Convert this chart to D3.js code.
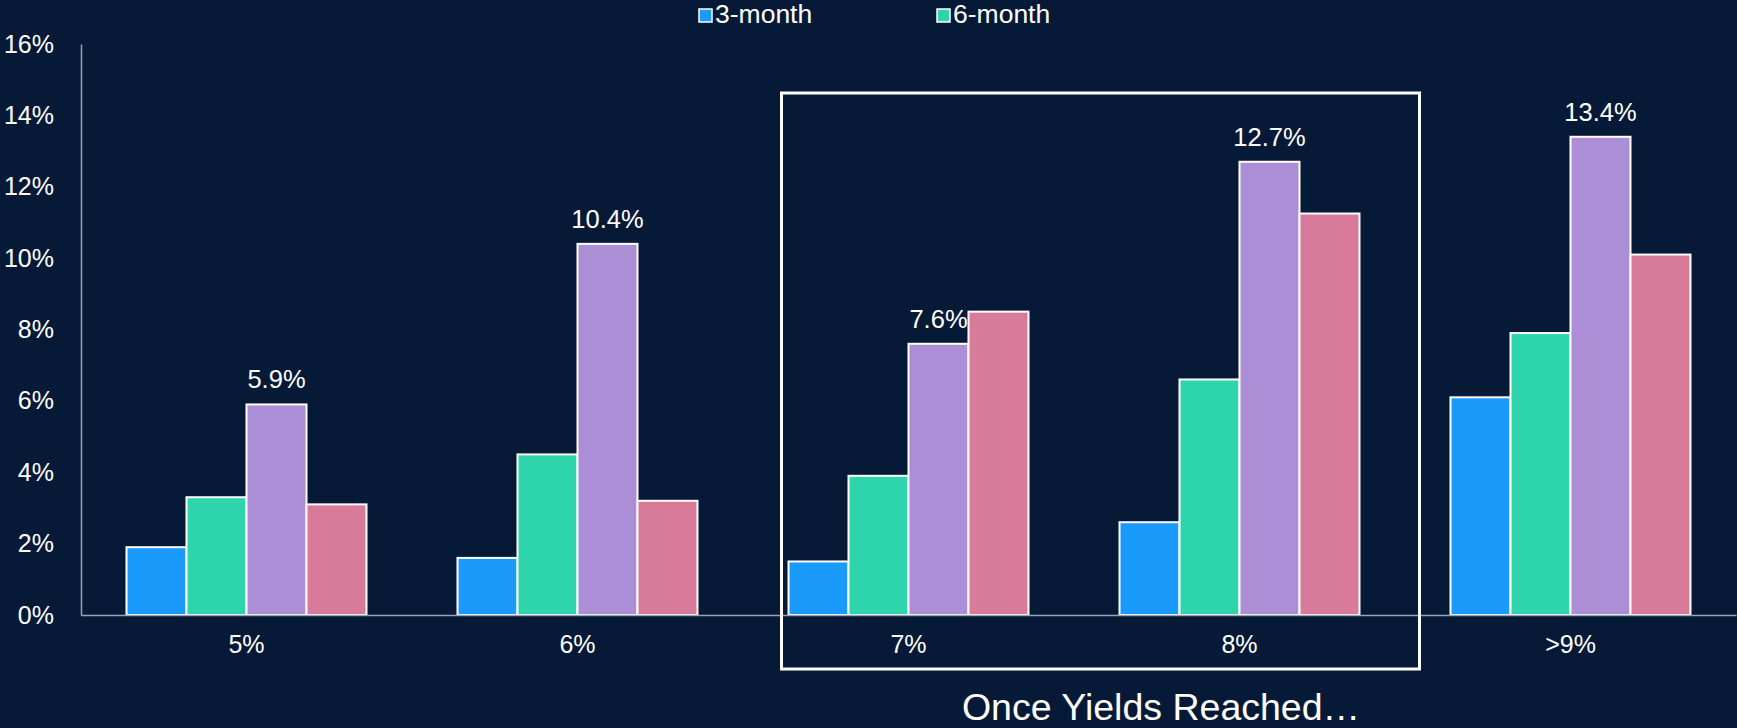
<!DOCTYPE html>
<html>
<head>
<meta charset="utf-8">
<script src="https://cdn.jsdelivr.net/npm/d3@7"></script>
<style>
  html, body { margin: 0; padding: 0; background: #061a38; }
  svg { display: block; font-family: "Liberation Sans", Arial, sans-serif; }
</style>
</head>
<body>
<div class="chart"></div>
<script>
const categories = ["5%", "6%", "7%", "8%", ">9%"];
const seriesNames = ["3-month", "6-month", "12-month", "24-month"];
const month3 = [1.9, 1.6, 1.5, 2.6, 6.1];
const month6 = [3.3, 4.5, 3.9, 6.6, 7.9];
const month12 = [5.9, 10.4, 7.6, 12.7, 13.4];
const month24 = [3.1, 3.2, 8.5, 11.25, 10.1];
const yTicks = [0, 2, 4, 6, 8, 10, 12, 14, 16];
const legendShown = ["3-month", "6-month"];
const labelSeries = "12-month";
const highlighted = ["7%", "8%"];
const xTitle = "Once Yields Reached\u2026";

const colors = ["#1a9bfc", "#2dd4ac", "#ab8ed6", "#d87a9a"];

const W = 1737, H = 728;
const margin = {top: 44, right: 1, bottom: 113, left: 81};

const values = [month3, month6, month12, month24];
const rows = categories.map((c, i) => ({
  cat: c,
  vals: seriesNames.map((s, j) => ({series: s, v: values[j][i]}))
}));

const svg = d3.select(".chart").append("svg")
  .attr("width", W).attr("height", H);

svg.append("rect").attr("width", W).attr("height", H).attr("fill", "#061a38");

const x0 = d3.scaleBand()
  .domain(categories)
  .range([margin.left, W - margin.right])
  .paddingInner(0.275)
  .paddingOuter(0.1375);

const x1 = d3.scaleBand()
  .domain(seriesNames)
  .range([0, x0.bandwidth()]);

const y = d3.scaleLinear()
  .domain([0, 16])
  .range([H - margin.bottom, margin.top]);

const color = d3.scaleOrdinal().domain(seriesNames).range(colors);

// y axis
const yAxis = d3.axisLeft(y)
  .tickValues(yTicks)
  .tickFormat(d => d + "%")
  .tickSize(0)
  .tickPadding(27);

const yg = svg.append("g")
  .attr("transform", `translate(${margin.left},0)`)
  .call(yAxis);
yg.select(".domain").attr("stroke", "#9aa3b0").attr("stroke-width", 1.5);
yg.selectAll("text").attr("fill", "#fff").attr("font-size", 25)
  .attr("font-family", "Liberation Sans, Arial, sans-serif");

// bars
const groups = svg.selectAll(".grp")
  .data(rows)
  .enter().append("g")
  .attr("class", "grp")
  .attr("transform", d => `translate(${x0(d.cat)},0)`);

groups.selectAll("rect")
  .data(d => d.vals)
  .enter().append("rect")
  .attr("x", d => x1(d.series))
  .attr("y", d => y(d.v))
  .attr("width", x1.bandwidth())
  .attr("height", d => y(0) - y(d.v))
  .attr("fill", d => color(d.series))
  .attr("stroke", "#fff")
  .attr("stroke-width", 2);

groups.selectAll(".val")
  .data(d => d.vals.filter(v => v.series === labelSeries))
  .enter().append("text")
  .attr("class", "val")
  .attr("x", d => x1(d.series) + x1.bandwidth() / 2)
  .attr("y", d => y(d.v) - 16)
  .attr("text-anchor", "middle")
  .attr("fill", "#fff")
  .attr("font-size", 25.5)
  .text(d => d.v.toFixed(1) + "%");

// x axis
const xAxis = d3.axisBottom(x0).tickSize(0).tickPadding(20);
const xg = svg.append("g")
  .attr("transform", `translate(0,${y(0)})`)
  .call(xAxis);
xg.select(".domain").attr("stroke", "#9aa3b0").attr("stroke-width", 1.5);
xg.selectAll("text").attr("fill", "#fff").attr("font-size", 25)
  .attr("font-family", "Liberation Sans, Arial, sans-serif");

// highlight box around 7% and 8%
const hx0 = x0(highlighted[0]) - 7;
const hx1 = x0(highlighted[1]) + x0.bandwidth() + 60;
svg.append("rect")
  .attr("x", hx0)
  .attr("y", 93)
  .attr("width", hx1 - hx0)
  .attr("height", 576)
  .attr("fill", "none")
  .attr("stroke", "#fff")
  .attr("stroke-width", 3);

// x title
svg.append("text")
  .attr("x", 1161)
  .attr("y", 720)
  .attr("text-anchor", "middle")
  .attr("fill", "#fff")
  .attr("font-size", 37.5)
  .text(xTitle);

// legend
const legendX = [699, 937];
const leg = svg.selectAll(".leg")
  .data(legendShown)
  .enter().append("g")
  .attr("class", "leg")
  .attr("transform", (d, i) => `translate(${legendX[i]},9)`);
leg.append("rect")
  .attr("width", 13).attr("height", 13)
  .attr("fill", d => color(d))
  .attr("stroke", "#fff").attr("stroke-width", 1.5);
leg.append("text")
  .attr("x", 16).attr("y", 14)
  .attr("fill", "#fff")
  .attr("font-size", 26.5)
  .text(d => d);
</script>
</body>
</html>
